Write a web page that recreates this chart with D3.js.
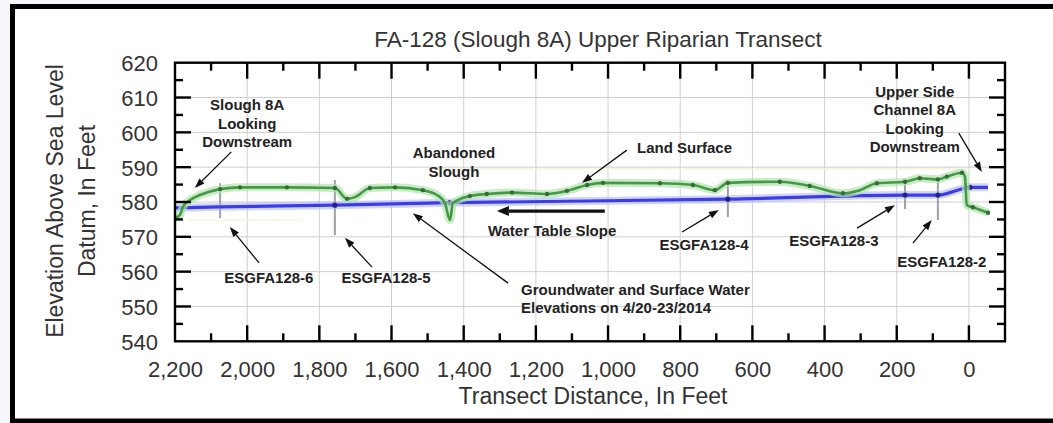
<!DOCTYPE html>
<html><head><meta charset="utf-8">
<script src="https://cdn.jsdelivr.net/npm/d3@7"></script>
<style>
html,body{margin:0;padding:0;background:#f4f6fa;}
svg{display:block;font-family:"Liberation Sans",Arial,sans-serif;}
</style></head>
<body><svg id="c" width="1053" height="423"></svg>
<script>
// ---- data ----
const landDist = [2200,2186,2178,2158,2131,2075,2020,1890,1757,1723,1701,1660,1590,1513,1474,1452,1438,1430,1383,1336,1266,1169,1114,1058,1014,856,765,704,668,524,441,349,302,255,177,136,86,61,19,11,6,-11,-53];
const landElev = [575.4,576.3,578.6,580.6,582.0,583.7,584.2,584.2,584.0,580.9,581.4,584.0,584.2,583.4,582.0,579.7,574.8,579.7,581.7,582.3,582.7,582.3,583.2,584.9,585.5,585.4,584.9,583.4,585.5,585.8,584.6,582.5,583.4,585.4,585.8,586.8,586.5,587.3,588.4,587.3,579.1,578.5,576.9];
const landMarked = [0,0,0,0,0,1,1,1,1,1,0,1,1,1,0,0,0,0,1,1,1,1,1,1,1,1,1,1,1,1,1,1,0,1,1,1,1,1,1,0,0,1,1];
const waterDist = [2200,2075,1757,1438,668,177,86,25,-3,-53];
const waterElev = [578.3,578.6,579.1,579.8,580.8,582.0,582.0,583.6,584.2,584.2];
const waterMarked = [0,0,1,1,1,1,1,0,1,0];
const wellNames = ["ESGFA128-6","ESGFA128-5","ESGFA128-4","ESGFA128-3","ESGFA128-2"];
const wellDist = [2075,1757,668,177,86];
const wellTop = [585.4,586.3,586.3,586.3,587.0];
const wellBottom = [575.4,570.5,575.7,578.0,574.8];
const xTicks = [2200,2000,1800,1600,1400,1200,1000,800,600,400,200,0];
const yTicks = [540,550,560,570,580,590,600,610,620];
const title = "FA-128 (Slough 8A) Upper Riparian Transect";
const xTitle = "Transect Distance, In Feet";
const yTitle = ["Elevation Above Sea Level","Datum, In Feet"];
// annotations: lines, anchor distance, first-baseline elevation, anchor type
const notes = [
  {lines:["Slough 8A","Looking","Downstream"], d:2000, e:606.4, anchor:"middle"},
  {lines:["Abandoned","Slough"], d:1427, e:592.6, anchor:"middle"},
  {lines:["Land Surface"], d:788, e:594.1, anchor:"middle"},
  {lines:["Water Table Slope"], d:1155, e:570.2, anchor:"middle"},
  {lines:["Upper Side","Channel 8A","Looking","Downstream"], d:150, e:610.2, anchor:"middle"},
  {lines:["ESGFA128-6"], d:1940, e:556.7, anchor:"middle"},
  {lines:["ESGFA128-5"], d:1615, e:556.7, anchor:"middle"},
  {lines:["ESGFA128-4"], d:734, e:566.2, anchor:"middle"},
  {lines:["ESGFA128-3"], d:374, e:567.4, anchor:"middle"},
  {lines:["ESGFA128-2"], d:75, e:561.3, anchor:"middle"},
  {lines:["Groundwater and Surface Water","Elevations on 4/20-23/2014"], d:1241, e:553.3, anchor:"start"}
];
// arrows: from (d1,e1) to head (d2,e2)
const arrows = [
  {d1:2044,e1:594.4,d2:2145,e2:584.0,w:1.3},
  {d1:948,e1:594.9,d2:1072,e2:585.5,w:1.3},
  {d1:1009,e1:577.4,d2:1308,e2:577.4,w:3.2},
  {d1:28,e1:599.8,d2:-36,e2:588.6,w:1.3},
  {d1:1967,e1:562.5,d2:2048,e2:572.8,w:1.3},
  {d1:1654,e1:561.3,d2:1729,e2:569.7,w:1.3},
  {d1:795,e1:571.4,d2:693,e2:577.7,w:1.3},
  {d1:310,e1:572.5,d2:205,e2:579.1,w:1.3},
  {d1:155,e1:568.2,d2:103,e2:574.8,w:1.3},
  {d1:1277,e1:556.7,d2:1541,e2:576.8,w:1.3}
];

// ---- layout ----
const svg = d3.select("#c");
const L=175, R=1005, T=62.7, B=341.3;
const x = d3.scaleLinear().domain([2200,-100]).range([L,R]);
const y = d3.scaleLinear().domain([540,620]).range([B,T]);

// outer white area with border
svg.append("rect").attr("x",12.5).attr("y",6.5).attr("width",1060).attr("height",414.5)
  .attr("fill","#fff").attr("stroke","#000").attr("stroke-width",5);

// grid
const g = svg.append("g");
g.selectAll(".gx").data(xTicks.filter(t=>t!==2200)).join("line")
  .attr("x1",d=>x(d)).attr("x2",d=>x(d)).attr("y1",T).attr("y2",B)
  .attr("stroke","#cfcfcf").attr("stroke-width",1);
g.selectAll(".gy").data(yTicks.filter(t=>t!==540&&t!==620)).join("line")
  .attr("x1",L).attr("x2",R).attr("y1",d=>y(d)).attr("y2",d=>y(d))
  .attr("stroke","#cfcfcf").attr("stroke-width",1);
// faint yellow artifact lines
g.append("line").attr("x1",x(1480)).attr("x2",x(-10)).attr("y1",y(589.5)).attr("y2",y(589.5)).attr("stroke","#f7f3d6").attr("stroke-width",1.2);
g.append("line").attr("x1",x(2165)).attr("x2",x(1845)).attr("y1",y(574.8)).attr("y2",y(574.8)).attr("stroke","#f7f3d6").attr("stroke-width",1.2);

// wells
g.selectAll(".well").data(wellDist).join("line")
  .attr("x1",d=>x(d)).attr("x2",d=>x(d))
  .attr("y1",(d,i)=>y(wellTop[i])).attr("y2",(d,i)=>y(wellBottom[i]))
  .attr("stroke","#a0a0a0").attr("stroke-width",2);

// water line
const water = waterDist.map((d,i)=>({d,e:waterElev[i],m:waterMarked[i]}));
const land = landDist.map((d,i)=>({d,e:landElev[i],m:landMarked[i]}));
const line = d3.line().x(p=>x(p.d)).y(p=>y(p.e)).curve(d3.curveMonotoneX);
g.append("path").attr("d",line(water)).attr("fill","none").attr("stroke","#aab0ff").attr("stroke-width",8).attr("stroke-opacity",0.55);
g.append("path").attr("d",line(water)).attr("fill","none").attr("stroke","#3d3de6").attr("stroke-width",3.2);
g.selectAll(".wm").data(water.filter(p=>p.m)).join("circle")
  .attr("cx",p=>x(p.d)).attr("cy",p=>y(p.e)).attr("r",2.6).attr("fill","#22228a");

// land line
g.append("path").attr("d",line(land)).attr("fill","none").attr("stroke","#b3e2b0").attr("stroke-width",8).attr("stroke-opacity",0.7);
g.append("path").attr("d",line(land)).attr("fill","none").attr("stroke","#449a44").attr("stroke-width",2.6);
g.selectAll(".lm").data(land.filter(p=>p.m)).join("circle")
  .attr("cx",p=>x(p.d)).attr("cy",p=>y(p.e)).attr("r",2.2).attr("fill","#356b35");

// frame
svg.append("rect").attr("x",L).attr("y",T).attr("width",R-L).attr("height",B-T)
  .attr("fill","none").attr("stroke","#000").attr("stroke-width",2.4);

// ticks (inward on all sides)
const xMinor = d3.range(2100,-100,-200);
const yMinor = d3.range(545,620,10);
const tk = svg.append("g").attr("stroke","#000").attr("stroke-width",2.4);
function xt(vals,len){
  vals.forEach(v=>{
    tk.append("line").attr("x1",x(v)).attr("x2",x(v)).attr("y1",B).attr("y2",B-len);
    tk.append("line").attr("x1",x(v)).attr("x2",x(v)).attr("y1",T).attr("y2",T+len);
  });
}
function yt(vals,len){
  vals.forEach(v=>{
    tk.append("line").attr("y1",y(v)).attr("y2",y(v)).attr("x1",L).attr("x2",L+len);
    tk.append("line").attr("y1",y(v)).attr("y2",y(v)).attr("x1",R).attr("x2",R-len);
  });
}
xt(xTicks.filter(t=>t!==2200),16); xt(xMinor,8);
yt(yTicks.filter(t=>t!==540&&t!==620),16); yt(yMinor,8);

// axis labels via d3 axes (no lines)
const fmt = d3.format(",");
const ax = svg.append("g").attr("transform",`translate(0,${B})`)
  .call(d3.axisBottom(x).tickValues(xTicks).tickFormat(fmt).tickSize(0).tickPadding(0));
ax.select(".domain").remove();
ax.selectAll("text").attr("font-size",22).attr("fill","#333").attr("dy",0).attr("y",36)
  .attr("font-family","'Liberation Sans',Arial,sans-serif");
const ay = svg.append("g").attr("transform",`translate(${L},0)`)
  .call(d3.axisLeft(y).tickValues(yTicks).tickSize(0).tickPadding(0));
ay.select(".domain").remove();
ay.selectAll("text").attr("font-size",22).attr("fill","#333").attr("x",-17).attr("dy","0.36em")
  .attr("font-family","'Liberation Sans',Arial,sans-serif");

// titles
svg.append("text").attr("x",598).attr("y",47).attr("text-anchor","middle")
  .attr("font-size",22.5).attr("fill","#333").text(title);
svg.append("text").attr("x",593).attr("y",404).attr("text-anchor","middle")
  .attr("font-size",23).attr("fill","#333").text(xTitle);
yTitle.forEach((t,i)=>{
  svg.append("text").attr("transform",`translate(${63+i*32},201) rotate(-90)`)
    .attr("text-anchor","middle").attr("font-size",23).attr("fill","#333").text(t);
});

// annotations
const an = svg.append("g").attr("font-size",15).attr("font-weight","bold").attr("fill","#222");
notes.forEach(n=>{
  n.lines.forEach((t,i)=>{
    an.append("text").attr("x",x(n.d)).attr("y",y(n.e)+i*18.5)
      .attr("text-anchor",n.anchor).text(t);
  });
});
// arrows
const ar = svg.append("g");
arrows.forEach(a=>{
  const x1=x(a.d1), y1=y(a.e1), x2=x(a.d2), y2=y(a.e2);
  const ang=Math.atan2(y2-y1,x2-x1);
  const hl = a.w>2?12:10, hw = a.w>2?5:3.6;
  const bx = x2-hl*Math.cos(ang), by = y2-hl*Math.sin(ang);
  ar.append("line").attr("x1",x1).attr("y1",y1).attr("x2",bx).attr("y2",by)
    .attr("stroke","#111").attr("stroke-width",a.w);
  const px=-Math.sin(ang)*hw, py=Math.cos(ang)*hw;
  ar.append("path").attr("d",`M${x2},${y2}L${bx+px},${by+py}L${bx-px},${by-py}Z`).attr("fill","#111");
});
</script></body></html>
